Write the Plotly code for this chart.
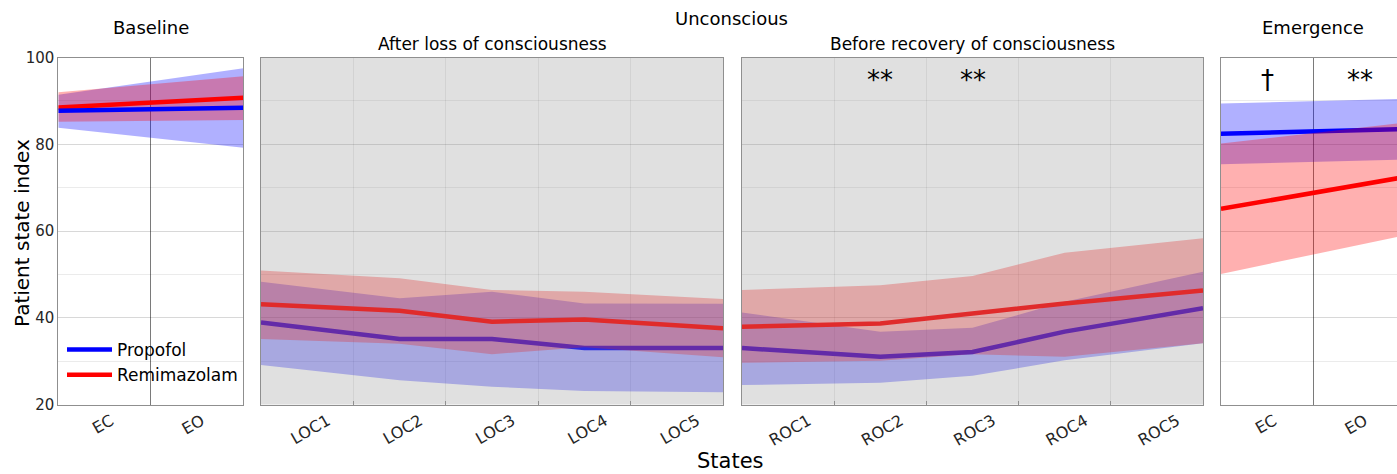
import plotly.graph_objects as go

# ---------------- data ----------------
pair_pos = [0, 2]                      # EC, EO
seg_pos = [0, 1.5, 2.5, 3.5, 5]        # 5 states per unconscious panel

pair_labels = ["EC", "EO"]
loc_labels = ["LOC1", "LOC2", "LOC3", "LOC4", "LOC5"]
roc_labels = ["ROC1", "ROC2", "ROC3", "ROC4", "ROC5"]
pair_label_pos = [0.57, 1.55]
seg_label_pos = [0.72, 1.72, 2.72, 3.72, 4.72]

base_prop_mean = [87.7, 88.4]
base_prop_hi = [91.4, 97.5]
base_prop_lo = [83.8, 79.2]
base_remi_mean = [88.5, 90.7]
base_remi_hi = [92.0, 95.7]
base_remi_lo = [85.2, 85.6]

loc_prop_mean = [38.9, 35.1, 35.1, 33.0, 33.0]
loc_prop_hi = [48.3, 44.5, 46.0, 43.3, 43.2]
loc_prop_lo = [29.1, 25.6, 24.1, 23.1, 22.8]
loc_remi_mean = [43.1, 41.6, 39.1, 39.6, 37.6]
loc_remi_hi = [50.9, 49.1, 46.4, 46.0, 44.3]
loc_remi_lo = [35.1, 34.0, 31.6, 33.2, 30.9]

roc_prop_mean = [33.0, 31.0, 32.1, 36.8, 42.2]
roc_prop_hi = [41.2, 36.8, 37.7, 43.7, 50.6]
roc_prop_lo = [24.5, 25.0, 26.6, 30.2, 34.1]
roc_remi_mean = [37.9, 38.7, 41.0, 43.3, 46.3]
roc_remi_hi = [46.4, 47.5, 49.6, 55.0, 58.3]
roc_remi_lo = [29.6, 30.1, 31.6, 31.0, 34.1]

em_prop_mean = [82.4, 83.5]
em_prop_hi = [89.4, 90.5]
em_prop_lo = [75.4, 76.5]
em_remi_mean = [65.1, 72.5]
em_remi_hi = [80.2, 85.0]
em_remi_lo = [50.1, 59.1]

sig_roc_pos = [1.5, 2.5]
sig_roc_text = ["**", "**"]
sig_em_pos = [0.5, 1.5]
sig_em_text = ["\u2020", "**"]
sig_level = 94.8

# ---------------- style ----------------
FONT = "DejaVu Sans"
BLUE = "#0000ff"
RED = "#ff0000"
BLUE_FILL = "rgba(0,0,255,0.31)"
RED_FILL = "rgba(255,0,0,0.31)"
SHADE = "rgba(148,148,148,0.29)"
GRID = "rgba(0,0,0,0.08)"
AXLINE = "#8f8f8f"
TICKC = "#262626"
W = 1397
H = 474

fig = go.Figure()


def band(x, hi, lo, color, xa, ya):
    fig.add_trace(go.Scatter(
        x=list(x) + list(x)[::-1], y=list(hi) + list(lo)[::-1],
        fill="toself", fillcolor=color, line=dict(width=0),
        mode="lines", hoverinfo="skip", showlegend=False, xaxis=xa, yaxis=ya))


def mean(x, y, color, name, xa, ya, legend=False):
    fig.add_trace(go.Scatter(
        x=x, y=y, mode="lines", line=dict(color=color, width=4.5),
        name=name, showlegend=legend, xaxis=xa, yaxis=ya))


# Baseline (lines drawn on top)
band(pair_pos, base_prop_hi, base_prop_lo, BLUE_FILL, "x", "y")
band(pair_pos, base_remi_hi, base_remi_lo, RED_FILL, "x", "y")
mean(pair_pos, base_remi_mean, RED, "Remimazolam", "x", "y")
mean(pair_pos, base_prop_mean, BLUE, "Propofol", "x", "y")

# LOC
band(seg_pos, loc_prop_hi, loc_prop_lo, BLUE_FILL, "x2", "y2")
mean(seg_pos, loc_prop_mean, BLUE, "Propofol", "x2", "y2", legend=True)
band(seg_pos, loc_remi_hi, loc_remi_lo, RED_FILL, "x2", "y2")
mean(seg_pos, loc_remi_mean, RED, "Remimazolam", "x2", "y2", legend=True)

# ROC
band(seg_pos, roc_prop_hi, roc_prop_lo, BLUE_FILL, "x3", "y3")
mean(seg_pos, roc_prop_mean, BLUE, "Propofol", "x3", "y3")
band(seg_pos, roc_remi_hi, roc_remi_lo, RED_FILL, "x3", "y3")
mean(seg_pos, roc_remi_mean, RED, "Remimazolam", "x3", "y3")

# Emergence
band(pair_pos, em_prop_hi, em_prop_lo, BLUE_FILL, "x4", "y4")
mean(pair_pos, em_prop_mean, BLUE, "Propofol", "x4", "y4")
band(pair_pos, em_remi_hi, em_remi_lo, RED_FILL, "x4", "y4")
mean(pair_pos, em_remi_mean, RED, "Remimazolam", "x4", "y4")

# ---------------- axes ----------------
doms = [(58.3, 243.3), (261, 723), (742, 1203), (1221, 1397)]
ranges = [[0, 2], [0, 5], [0, 5], [0, 176 / 92.7]]
ydom = [1 - 404.5 / H, 1 - 57.5 / H]
tick_sets = [(pair_label_pos, pair_labels), (seg_label_pos, loc_labels),
             (seg_label_pos, roc_labels), (pair_label_pos, pair_labels)]

layout = dict(
    width=W, height=H, margin=dict(l=0, r=0, t=0, b=0, autoexpand=False),
    paper_bgcolor="white", plot_bgcolor="white",
    font=dict(family=FONT, color=TICKC, size=15),
    showlegend=True,
    legend=dict(x=62 / W, y=1 - 332 / H, xanchor="left", yanchor="top",
                bgcolor="rgba(0,0,0,0)", font=dict(size=17, color="#000000"),
                tracegroupgap=0, itemwidth=45),
)

for i, ((a, b), rng, (tv, tt)) in enumerate(zip(doms, ranges, tick_sets)):
    sfx = "" if i == 0 else str(i + 1)
    if i in (0, 3):
        minor = dict(tickvals=[1], showgrid=True, gridcolor="#7a7a7a",
                     gridwidth=1.2, ticks="")
    else:
        minor = dict(tickvals=[1, 2, 3, 4], showgrid=True, gridcolor=GRID,
                     gridwidth=1, ticks="inside", ticklen=4, tickcolor=AXLINE)
    layout["xaxis" + sfx] = dict(
        domain=[a / W, b / W], range=rng, anchor="y" + sfx, automargin=False,
        tickmode="array", tickvals=tv, ticktext=tt, tickangle=-30,
        showgrid=False, ticks="", zeroline=False,
        showline=True, linecolor=AXLINE, linewidth=1, mirror=True,
        minor=minor, tickfont=dict(size=16, color=TICKC), fixedrange=True)
    layout["yaxis" + sfx] = dict(
        domain=ydom, range=[20, 100], anchor="x" + sfx, automargin=False,
        tickmode="array", tickvals=[20, 40, 60, 80, 100],
        showticklabels=(i == 0), showgrid=True, gridcolor=GRID, zeroline=False,
        minor=dict(dtick=10, tick0=0, showgrid=True, gridcolor=GRID),
        showline=True, linecolor=AXLINE, linewidth=1, mirror=(i != 3),
        ticks="", tickfont=dict(size=15, color=TICKC), fixedrange=True)

fig.update_layout(**layout)

# translucent gray shading over the unconscious panels
for sfx in ("x2", "x3"):
    fig.add_shape(type="rect", xref=sfx + " domain", yref="y domain",
                  x0=0, x1=1, y0=0, y1=1, fillcolor=SHADE,
                  line=dict(width=0), layer="above")

# significance markers
for p, t in zip(sig_roc_pos, sig_roc_text):
    fig.add_annotation(x=p, y=sig_level, xref="x3", yref="y3", text=t,
                       showarrow=False, font=dict(size=26, color="#000000"))
for p, t in zip(sig_em_pos, sig_em_text):
    fig.add_annotation(x=p, y=sig_level, xref="x4", yref="y4", text=t,
                       showarrow=False, font=dict(size=26, color="#000000"))

# titles
def ptext(x, y, text, size, angle=0):
    fig.add_annotation(x=x / W, y=1 - y / H, xref="paper", yref="paper",
                       text=text, showarrow=False, xanchor="center",
                       yanchor="middle", textangle=angle,
                       font=dict(size=size, color="#000000"))

ptext(150.8, 28, "Baseline", 18)
ptext(731, 19, "Unconscious", 18)
ptext(492, 44, "After loss of consciousness", 17)
ptext(972.5, 44, "Before recovery of consciousness", 17)
ptext(1313, 28, "Emergence", 18)
ptext(730, 461, "States", 21)
ptext(22, 233, "Patient state index", 20, angle=-90)

fig.write_html("out.html", config={"displayModeBar": False},
               post_script="document.body.style.margin='0px';")
